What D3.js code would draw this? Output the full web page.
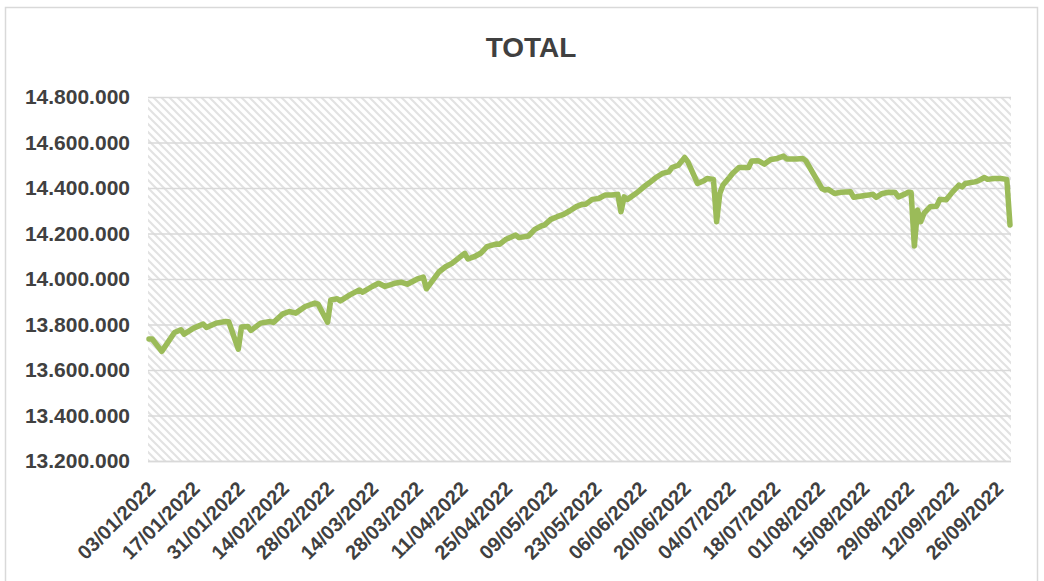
<!DOCTYPE html>
<html>
<head>
<meta charset="utf-8">
<script src="https://cdn.jsdelivr.net/npm/d3@7"></script>
<style>
  html, body { margin: 0; padding: 0; background: #ffffff; }
  svg { display: block; font-family: "Liberation Sans", Arial, sans-serif; }
</style>
</head>
<body>
<svg id="chart" width="1044" height="581"></svg>
<script>
// Daily totals, 2022
const dates = [
  "03/01/2022","04/01/2022","07/01/2022","11/01/2022","13/01/2022","14/01/2022","17/01/2022","20/01/2022",
  "21/01/2022","24/01/2022","27/01/2022","28/01/2022","31/01/2022","01/02/2022","03/02/2022","04/02/2022",
  "07/02/2022","10/02/2022","11/02/2022","14/02/2022","16/02/2022","18/02/2022","21/02/2022","24/02/2022",
  "25/02/2022","28/02/2022","01/03/2022","03/03/2022","04/03/2022","07/03/2022","10/03/2022","11/03/2022",
  "14/03/2022","16/03/2022","18/03/2022","21/03/2022","23/03/2022","25/03/2022","28/03/2022","30/03/2022",
  "31/03/2022","04/04/2022","06/04/2022","08/04/2022","10/04/2022","12/04/2022","13/04/2022","15/04/2022",
  "17/04/2022","19/04/2022","22/04/2022","23/04/2022","25/04/2022","28/04/2022","29/04/2022","02/05/2022",
  "04/05/2022","06/05/2022","07/05/2022","09/05/2022","11/05/2022","13/05/2022","15/05/2022","17/05/2022",
  "19/05/2022","20/05/2022","22/05/2022","24/05/2022","26/05/2022","28/05/2022","30/05/2022","31/05/2022",
  "01/06/2022","02/06/2022","05/06/2022","07/06/2022","09/06/2022","11/06/2022","13/06/2022","15/06/2022",
  "16/06/2022","18/06/2022","20/06/2022","21/06/2022","24/06/2022","26/06/2022","27/06/2022","29/06/2022",
  "30/06/2022","01/07/2022","02/07/2022","04/07/2022","05/07/2022","07/07/2022","10/07/2022","11/07/2022",
  "13/07/2022","15/07/2022","17/07/2022","19/07/2022","21/07/2022","22/07/2022","25/07/2022","27/07/2022",
  "28/07/2022","02/08/2022","03/08/2022","04/08/2022","06/08/2022","08/08/2022","11/08/2022","12/08/2022",
  "15/08/2022","18/08/2022","19/08/2022","21/08/2022","23/08/2022","25/08/2022","26/08/2022","28/08/2022",
  "29/08/2022","30/08/2022","31/08/2022","01/09/2022","02/09/2022","03/09/2022","05/09/2022","07/09/2022",
  "08/09/2022","10/09/2022","12/09/2022","14/09/2022","15/09/2022","16/09/2022","19/09/2022","20/09/2022",
  "22/09/2022","23/09/2022","25/09/2022","27/09/2022","29/09/2022","30/09/2022"
];

const totals = [
  13736000,13736000,13682000,13765000,13777000,13758000,13784000,13802000,
  13787000,13806000,13813000,13812000,13692000,13789000,13791000,13774000,
  13806000,13813000,13809000,13847000,13857000,13850000,13879000,13894000,
  13890000,13810000,13908000,13913000,13904000,13930000,13952000,13942000,
  13967000,13981000,13967000,13981000,13986000,13977000,13999000,14008000,
  13957000,14032000,14054000,14069000,14091000,14113000,14088000,14098000,
  14113000,14142000,14154000,14153000,14175000,14193000,14182000,14189000,
  14218000,14233000,14237000,14262000,14274000,14284000,14300000,14318000,
  14329000,14329000,14350000,14354000,14369000,14369000,14372000,14296000,
  14361000,14350000,14379000,14403000,14424000,14446000,14464000,14471000,
  14490000,14500000,14534000,14515000,14420000,14432000,14442000,14438000,
  14252000,14376000,14413000,14446000,14464000,14490000,14490000,14519000,
  14520000,14505000,14525000,14530000,14540000,14527000,14527000,14530000,
  14519000,14398000,14391000,14394000,14376000,14381000,14383000,14359000,
  14366000,14372000,14359000,14376000,14381000,14380000,14361000,14373000,
  14381000,14380000,14145000,14303000,14252000,14288000,14318000,14320000,
  14350000,14348000,14383000,14413000,14405000,14420000,14427000,14431000,
  14446000,14438000,14442000,14442000,14438000,14237000
];

const xTickLabels = [
  "03/01/2022","17/01/2022","31/01/2022","14/02/2022","28/02/2022","14/03/2022","28/03/2022",
  "11/04/2022","25/04/2022","09/05/2022","23/05/2022","06/06/2022","20/06/2022","04/07/2022",
  "18/07/2022","01/08/2022","15/08/2022","29/08/2022","12/09/2022","26/09/2022"
];

const yTicks = [13200000,13400000,13600000,13800000,14000000,14200000,14400000,14600000,14800000];

const chartTitle = "TOTAL";

// ---- layout ----
const svg = d3.select("#chart");
const plot = { left: 148, right: 1011, top: 97, bottom: 461 };
const textColor = "#404040";
const gridColor = "#d9d9d9";
const lineColor = "#9bbb59";

const parse = d3.timeParse("%d/%m/%Y");
const fmtDate = d3.timeFormat("%d/%m/%Y");
const es = d3.formatLocale({ decimal: ",", thousands: ".", grouping: [3], currency: ["", " €"] });
const fmtNum = es.format(",d");

const data = dates.map((d, i) => ({ date: parse(d), value: totals[i] }));

const x = d3.scaleTime()
  .domain([parse(dates[0]), parse(dates[dates.length - 1])])
  .range([plot.left + 1, plot.right - 1]);

const y = d3.scaleLinear()
  .domain([yTicks[0], yTicks[yTicks.length - 1]])
  .range([plot.bottom, plot.top]);

// chart frame
svg.append("rect")
  .attr("x", 5.5).attr("y", 7.5)
  .attr("width", 1032).attr("height", 600)
  .attr("fill", "#ffffff")
  .attr("stroke", "#d9d9d9")
  .attr("stroke-width", 1.5);

// diagonal hatch fill for the plot area
const defs = svg.append("defs");
const pat = defs.append("pattern")
  .attr("id", "hatch")
  .attr("patternUnits", "userSpaceOnUse")
  .attr("width", 8).attr("height", 8);
pat.append("rect").attr("width", 8).attr("height", 8).attr("fill", "#ffffff");
pat.append("path")
  .attr("d", "M-2,-2 L10,10 M-2,6 L2,10 M6,-2 L10,2")
  .attr("stroke", "#e2e2e2")
  .attr("stroke-width", 2);

svg.append("rect")
  .attr("x", plot.left).attr("y", plot.top)
  .attr("width", plot.right - plot.left)
  .attr("height", plot.bottom - plot.top)
  .attr("fill", "url(#hatch)");

// horizontal gridlines + y labels
const yAxis = d3.axisLeft(y)
  .tickValues(yTicks)
  .tickFormat(fmtNum)
  .tickSize(-(plot.right - plot.left))
  .tickPadding(18);

const gy = svg.append("g")
  .attr("transform", `translate(${plot.left},0)`)
  .call(yAxis);
gy.select(".domain").remove();
gy.selectAll(".tick line")
  .attr("stroke", gridColor)
  .attr("stroke-width", 1.6);
gy.selectAll(".tick text")
  .attr("fill", textColor)
  .attr("font-size", "21px")
  .attr("font-weight", "bold")
  .attr("font-family", "'Liberation Sans', Arial, sans-serif");

// x axis with rotated date labels
const xAxis = d3.axisBottom(x)
  .tickValues(xTickLabels.map(parse))
  .tickFormat(fmtDate)
  .tickSize(0)
  .tickSizeOuter(0);

const gx = svg.append("g")
  .attr("transform", `translate(0,${plot.bottom})`)
  .call(xAxis);
gx.select(".domain")
  .attr("stroke", gridColor)
  .attr("stroke-width", 1.6)
  .attr("d", `M${plot.left},0.5H${plot.right}`);
gx.selectAll(".tick text")
  .attr("fill", textColor)
  .attr("font-size", "20px")
  .attr("font-weight", "bold")
  .attr("font-family", "'Liberation Sans', Arial, sans-serif")
  .attr("text-anchor", "end")
  .attr("dy", null)
  .attr("y", null)
  .attr("transform", "translate(7,29) rotate(-45)");

// series line
const line = d3.line()
  .x(d => x(d.date))
  .y(d => y(d.value));

svg.append("path")
  .datum(data)
  .attr("fill", "none")
  .attr("stroke", lineColor)
  .attr("stroke-width", 5.5)
  .attr("stroke-linejoin", "round")
  .attr("stroke-linecap", "round")
  .attr("d", line);

// title
svg.append("text")
  .attr("x", 531)
  .attr("y", 57)
  .attr("text-anchor", "middle")
  .attr("fill", textColor)
  .attr("font-size", "28px")
  .attr("font-weight", "bold")
  .text(chartTitle);
</script>
</body>
</html>
